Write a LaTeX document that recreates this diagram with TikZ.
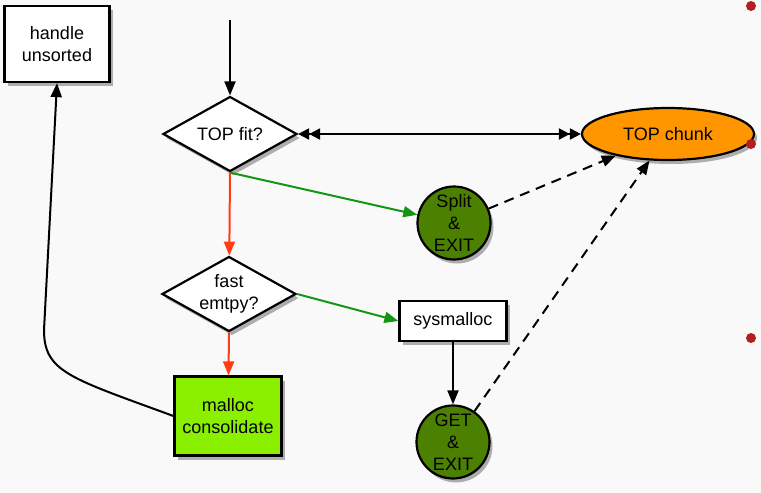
\documentclass[tikz,border=0pt]{standalone}
\usepackage{fontspec}
\setmainfont{Liberation Sans}
\usetikzlibrary{arrows.meta,shapes.geometric,shadows}

\definecolor{bgcol}{RGB}{249,249,249}
\definecolor{topcol}{RGB}{255,150,0}
\definecolor{exitcol}{RGB}{76,128,0}
\definecolor{conscol}{RGB}{138,240,0}
\definecolor{yescol}{RGB}{20,150,20}
\definecolor{nocol}{RGB}{255,60,20}
\definecolor{dotcol}{RGB}{180,30,30}

\begin{document}
\begin{tikzpicture}[
  x=1pt, y=-1pt,
  font=\fontsize{18}{22}\selectfont,
  shd/.style={drop shadow={shadow xshift=3pt, shadow yshift=-4pt, fill=black, opacity=0.3}},
  box/.style={draw, line width=2.2pt, fill=white, align=center, inner sep=0pt, shd},
  test/.style={draw, diamond, aspect=1.8, line width=2.2pt, fill=white, align=center,
               inner sep=0pt, minimum width=134pt, minimum height=75pt, shd},
  done/.style={draw, circle, line width=2.2pt, fill=exitcol, align=center,
               inner sep=0pt, minimum size=73pt, shd},
  arr/.style={-{Triangle[length=14pt,width=11pt]}, line width=2pt},
  dbl/.style={{Triangle[length=11pt,width=11pt]Triangle[length=11pt,width=11pt]}-{Triangle[length=11pt,width=11pt]Triangle[length=11pt,width=11pt]}, line width=2pt},
  dsh/.style={arr, dash pattern=on 10pt off 7pt},
]

% background, fixes the margins
\useasboundingbox[fill=bgcol] (0,0) rectangle (761,493);

% ================= nodes =================
\node[box, minimum width=105pt, minimum height=76pt] (handle) at (57,44) {handle\\unsorted};
\node[test] (topfit) at (230,134) {TOP fit?};
\node[test] (fast) at (229,294) {fast\\emtpy?};
\node[draw, ellipse, line width=2.2pt, fill=topcol, minimum width=172pt, minimum height=52pt, shd] (top) at (668,134) {TOP chunk};
\node[done] (split) at (454,223) {Split\\[0pt]\&\\[0pt]EXIT};
\node[box, minimum width=107pt, minimum height=40pt] (sysm) at (453,321) {sysmalloc};
\node[done] (get) at (453,442) {GET\\[0pt]\&\\[0pt]EXIT};
\node[box, fill=conscol, minimum width=107pt, minimum height=79pt] (cons) at (228,416) {malloc\\consolidate};

\coordinate (entry) at (230,20);

% ================= connectors =================
\draw[arr] (entry) -- (topfit);
\draw[dbl] (topfit) -- (top);
\draw[arr, yescol] (topfit.south) -- (split);
\draw[arr, nocol] (topfit.south) -- (fast);
\draw[dsh] (split) -- (top);
\draw[arr, yescol] (fast.east) -- (sysm.west);
\draw[arr, nocol] (fast.south) -- (cons);
\draw[arr] (sysm) -- (get);
\draw[dsh] (get) -- (top);
\draw[arr] (cons.west) .. controls (70,378) and (44,372) .. (44,330) -- (handle.south);

% slide bullets on the right edge
\foreach \yb in {6,144,338}
  \fill[dotcol] (751,\yb) circle (5pt);

\end{tikzpicture}
\end{document}
